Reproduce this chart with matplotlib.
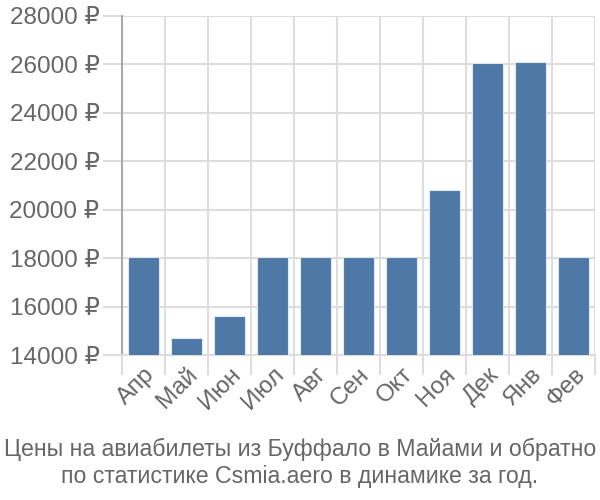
import matplotlib
matplotlib.use("Agg")
import matplotlib.pyplot as plt
import numpy as np

months = ["Апр", "Май", "Июн", "Июл", "Авг", "Сен", "Окт", "Ноя", "Дек", "Янв", "Фев"]
prices = [18050, 14700, 15620, 18050, 18050, 18050, 18050, 20830, 26060, 26110, 18050]
yticks = [14000, 16000, 18000, 20000, 22000, 24000, 26000, 28000]
title = "Цены на авиабилеты из Буффало в Майами и обратно\nпо статистике Csmia.aero в динамике за год."

plt.rcParams['font.family'] = ['Liberation Sans', 'DejaVu Sans']

fig = plt.figure(figsize=(6, 5), dpi=100)
ax = fig.add_axes([0.203, 0.29, 0.789, 0.678])

x = np.arange(len(months))
ax.bar(x, prices, width=0.72, color="#4e79a7", edgecolor="#dfe7f0", linewidth=0.8, zorder=3)

ax.set_xlim(-0.5, len(months) - 0.5)
ax.set_ylim(14000, 28000)
ax.set_yticks(yticks)
ax.set_yticklabels([f"{v} ₽" for v in yticks])
ax.set_xticks(x)
ax.set_xticklabels(months, rotation=45, ha="right", va="top", rotation_mode="anchor")
ax.set_xticks(np.arange(-0.5, len(months)), minor=True)

gc = "#dddddd"
ax.grid(True, axis="y", color=gc, linewidth=1.5, zorder=0)
ax.grid(True, axis="x", which="minor", color=gc, linewidth=1.5, zorder=0)
ax.tick_params(axis="x", which="major", length=0, pad=6, labelsize=17.5, labelcolor="#666666")
ax.tick_params(axis="x", which="minor", length=14.5, width=1.5, color=gc)
ax.tick_params(axis="y", length=14, width=1.5, color=gc, pad=2, labelsize=17.5, labelcolor="#666666")

for s in ["top", "right"]:
    ax.spines[s].set_visible(False)
ax.spines["bottom"].set_color(gc)
ax.spines["bottom"].set_linewidth(1.5)
ax.spines["left"].set_color("#aaaaaa")
ax.spines["left"].set_linewidth(1.5)
ax.set_axisbelow(True)

fig.text(0.5, 0.025, title, ha="center", va="bottom", fontsize=16.7, color="#666666", linespacing=1.2)

fig.savefig("out.png", dpi=100)
